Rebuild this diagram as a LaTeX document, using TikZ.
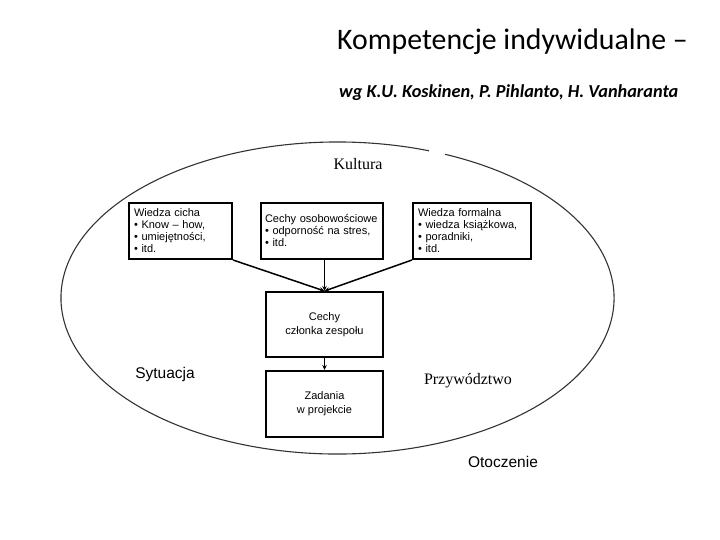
\documentclass[tikz,border=0pt]{standalone}
\usepackage{fontspec}
\setmainfont{Liberation Serif}
\setsansfont{Liberation Sans}
\newfontfamily\calibri{Carlito}
\usetikzlibrary{arrows.meta,positioning}

\begin{document}
\begin{tikzpicture}[x=1pt,y=-1pt,
    box/.style={draw,line width=2pt,inner sep=5pt,minimum height=56pt,font=\sffamily\fontsize{11}{12}\selectfont,align=left},
    mainbox/.style={draw,line width=2pt,inner sep=0pt,minimum width=117pt,font=\sffamily\fontsize{11}{14}\selectfont,align=center},
    link/.style={line width=1.5pt,-{Stealth[length=5pt,width=4.5pt]}}]
      \useasboundingbox (0,0) rectangle (720,540);
      \node[anchor=base west,inner sep=0pt,font=\calibri\fontsize{29.8}{32}\selectfont] (title) at (337,50) {Kompetencje indywidualne –};
      \node[anchor=base west,inner sep=0pt,font=\calibri\bfseries\itshape\fontsize{18.3}{20}\selectfont] (authors) at (339,98) {wg K.U. Koskinen, P. Pihlanto, H. Vanharanta};

      % environment oval, open at the top
      \draw[line width=1.1pt,black!80] (445.1,154.3) arc[start angle=67.1,end angle=-289.3,x radius=276.5pt,y radius=156pt];
      \node[font=\fontsize{16}{18}\selectfont] (kultura) at (358,164) {Kultura};
      \node[font=\fontsize{16}{18}\selectfont] (przywodztwo) at (468,381) {Przywództwo};
      \node[font=\sffamily\fontsize{15.5}{18}\selectfont] (sytuacja) at (165,374) {Sytuacja};
      \node[font=\sffamily\fontsize{15.5}{18}\selectfont] (otoczenie) at (503,462) {Otoczenie};

      % knowledge and traits
      \node[box,text width=93pt] (cicha) at (180.5,231) {Wiedza cicha\\• Know – how,\\• umiejętności,\\• itd.};
      \node[box,inner xsep=4pt,text width=114pt] (cechy) at (322,231) {Cechy osobowościowe\\• odporność na stres,\\• itd.};
      \node[box,text width=108pt] (formalna) at (472,231) {Wiedza formalna\\• wiedza książkowa,\\• poradniki,\\• itd.};
      \node[mainbox,minimum height=65pt] (czlonek) at (324.5,324.5) {Cechy\\członka zespołu};
      \node[mainbox,minimum height=66pt] (zadania) at (324.5,404) {Zadania\\w projekcie};

      \draw[link] (cicha.south east) -- (czlonek.north);
      \draw[link] (formalna.south west) -- (czlonek.north);
      \draw[link,line width=1pt] (cechy.south -| czlonek.north) -- (czlonek.north);
      \draw[link,line width=1pt] (czlonek) -- (zadania);
\end{tikzpicture}
\end{document}
